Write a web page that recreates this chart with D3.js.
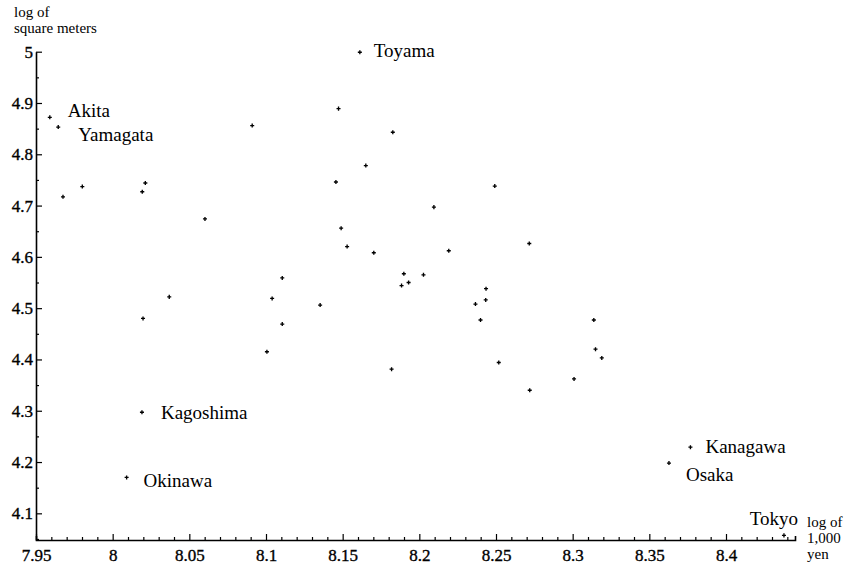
<!DOCTYPE html>
<html>
<head>
<meta charset="utf-8">
<script src="https://cdn.jsdelivr.net/npm/d3@7"></script>
<style>
  body { margin: 0; background: #fff; }
  svg { display: block; }
  text { font-family: "Liberation Serif", "Times New Roman", serif; fill: #000; }
</style>
</head>
<body>
<svg id="chart" width="852" height="569"></svg>
<script>
// ---- data (log of 1,000 yen income vs log of square meters) ----
const prefNames = [
  "Akita", "Yamagata", "", "", "", "", "", "", "", "",
  "Kagoshima", "Okinawa", "Toyama",
  "", "", "", "", "", "", "", "", "", "",
  "", "", "", "", "", "", "", "", "", "",
  "", "", "", "", "", "", "", "", "", "", "",
  "Kanagawa", "Osaka", "Tokyo"
];
const logYen = [
  7.959, 7.9645, 7.9676, 7.9802, 8.0193, 8.0213, 8.0602, 8.091, 8.0369, 8.0198,
  8.0191, 8.0091, 8.1612,
  8.1473, 8.1827, 8.1651, 8.1456, 8.2492, 8.2095, 8.149, 8.1529, 8.1703, 8.2192,
  8.2717, 8.1899, 8.2027, 8.193, 8.1884, 8.2435, 8.2366, 8.2433, 8.2399, 8.3138,
  8.3149, 8.319, 8.2518, 8.3009, 8.272, 8.1819, 8.1353, 8.1106, 8.104, 8.1106, 8.1006,
  8.3768, 8.3628, 8.4378
];
const logArea = [
  4.872, 4.853, 4.717, 4.737, 4.727, 4.744, 4.674, 4.856, 4.522, 4.480,
  4.297, 4.170, 4.999,
  4.889, 4.843, 4.778, 4.746, 4.738, 4.697, 4.656, 4.620, 4.608, 4.612,
  4.626, 4.567, 4.565, 4.550, 4.544, 4.538, 4.508, 4.516, 4.477, 4.477,
  4.420, 4.403, 4.394, 4.362, 4.340, 4.381, 4.506, 4.559, 4.519, 4.469, 4.415,
  4.229, 4.198, 4.057
];
const xTicks = [7.95, 8, 8.05, 8.1, 8.15, 8.2, 8.25, 8.3, 8.35, 8.4];
const xTickLabels = ["7.95", "8", "8.05", "8.1", "8.15", "8.2", "8.25", "8.3", "8.35", "8.4"];
const yTicks = [4.1, 4.2, 4.3, 4.4, 4.5, 4.6, 4.7, 4.8, 4.9, 5];
const yTickLabels = ["4.1", "4.2", "4.3", "4.4", "4.5", "4.6", "4.7", "4.8", "4.9", "5"];
const yTitleLines = ["log of", "square meters"];
const xTitleLines = ["log of", "1,000", "yen"];

// ---- layout (label offsets relative to each labelled point) ----
const labelOffsets = {
  Akita:     { dx: 18, dy: 0,  anchor: "start" },
  Yamagata:  { dx: 20, dy: 14, anchor: "start" },
  Toyama:    { dx: 14, dy: 5,  anchor: "start" },
  Kagoshima: { dx: 19, dy: 7,  anchor: "start" },
  Okinawa:   { dx: 17, dy: 10, anchor: "start" },
  Kanagawa:  { dx: 15, dy: 6,  anchor: "start" },
  Osaka:     { dx: 17, dy: 18, anchor: "start" },
  Tokyo:     { dx: 14, dy: -10, anchor: "end" }
};

const svg = d3.select("#chart");
const x = d3.scaleLinear().domain([7.95, 8.445]).range([36, 795]);
const y = d3.scaleLinear().domain([4.048, 5]).range([540, 51.7]);

// minor ticks
const xMinor = d3.range(0, 50).map(i => +(7.95 + i * 0.01).toFixed(2)).filter(v => !xTicks.includes(v));
const yMinor = d3.range(0, 19).map(i => +(4.05 + i * 0.05).toFixed(2)).filter(v => !yTicks.includes(v));

const xAxisG = svg.append("g").attr("transform", "translate(0,540)");
xAxisG.call(d3.axisBottom(x).tickValues(xMinor).tickSize(-3).tickSizeOuter(-4).tickFormat(""));
xAxisG.append("g").call(
  d3.axisBottom(x).tickValues(xTicks).tickSize(-6).tickSizeOuter(0).tickPadding(9)
    .tickFormat((d, i) => xTickLabels[i])
);

const yAxisG = svg.append("g").attr("transform", "translate(36,0)");
yAxisG.call(d3.axisLeft(y).tickValues(yMinor).tickSize(-3).tickSizeOuter(0).tickFormat(""));
yAxisG.append("g").call(
  d3.axisLeft(y).tickValues(yTicks).tickSize(-6).tickSizeOuter(0).tickPadding(3)
    .tickFormat((d, i) => yTickLabels[i])
);

svg.selectAll(".tick text")
  .attr("font-size", 17).attr("font-family", "Liberation Serif")
  .attr("fill", "#000").attr("stroke", "#000").attr("stroke-width", 0.35);
svg.selectAll(".domain").attr("stroke", "#000").attr("stroke-width", 1.6);
svg.selectAll(".tick line").attr("stroke", "#000").attr("stroke-width", 1.2);
yAxisG.selectAll("g > g .domain").remove();
xAxisG.selectAll("g > g .domain").remove();

// axis titles
svg.append("text").attr("font-size", 15)
  .selectAll("tspan").data(yTitleLines).join("tspan")
  .attr("x", 14).attr("y", (d, i) => 17 + i * 16).text(d => d);
svg.append("text").attr("font-size", 15)
  .selectAll("tspan").data(xTitleLines).join("tspan")
  .attr("x", 807).attr("y", (d, i) => 527 + i * 16).text(d => d);

// points
const pts = logYen.map((v, i) => ({ name: prefNames[i], xv: v, yv: logArea[i] }));
svg.append("g").selectAll("path").data(pts).join("path")
  .attr("transform", d => `translate(${x(d.xv)},${y(d.yv)})`)
  .attr("d", d3.symbol(d3.symbolCross, 9))
  .attr("fill", "#000");

// labels
svg.append("g").selectAll("text").data(pts.filter(d => d.name)).join("text")
  .attr("x", d => x(d.xv) + labelOffsets[d.name].dx)
  .attr("y", d => y(d.yv) + labelOffsets[d.name].dy)
  .attr("text-anchor", d => labelOffsets[d.name].anchor)
  .attr("font-size", 19)
  .text(d => d.name);
</script>
</body>
</html>
